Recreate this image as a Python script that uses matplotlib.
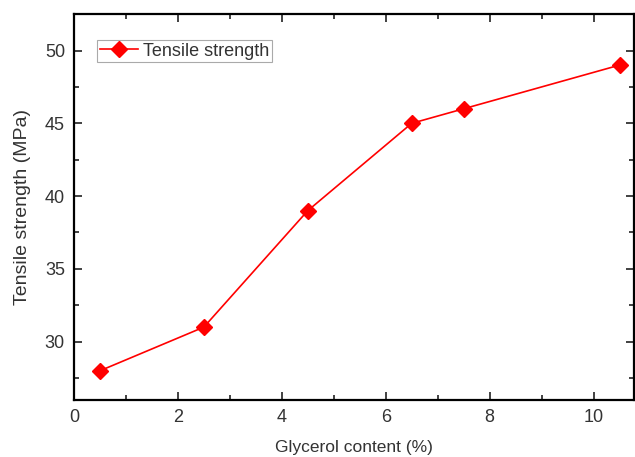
import matplotlib.pyplot as plt
from matplotlib.ticker import MultipleLocator

plt.rcParams['font.family'] = ['Liberation Sans', 'DejaVu Sans']

glycerol = [0.5, 2.5, 4.5, 6.5, 7.5, 10.5]
strength = [28, 31, 39, 45, 46, 49]

fig = plt.figure(figsize=(6.35, 4.57), dpi=100)
ax = fig.add_axes([0.1165, 0.125, 0.882, 0.844])

ax.plot(glycerol, strength, color='#ff0000', lw=1.2, marker='D', ms=8,
        markeredgecolor='#ff0000', label='Tensile strength')

ax.set_xlim(0, 10.78)
ax.set_ylim(26, 52.5)
ax.xaxis.set_major_locator(MultipleLocator(2))
ax.xaxis.set_minor_locator(MultipleLocator(1))
ax.yaxis.set_major_locator(MultipleLocator(5))
ax.yaxis.set_minor_locator(MultipleLocator(2.5))
ax.tick_params(which='both', direction='in', top=True, right=True,
               labelsize=13, colors='#333333', width=1.3, pad=6.5)
ax.tick_params(which='major', length=6)
ax.tick_params(which='minor', length=3.5)
for s in ax.spines.values():
    s.set_linewidth(1.6)

ax.set_xlabel('Glycerol content (%)', fontsize=12.5, color='#333333', labelpad=10)
ax.set_ylabel('Tensile strength (MPa)', fontsize=14, color='#333333', labelpad=10)

leg = ax.legend(loc='upper left', bbox_to_anchor=(0.041, 0.933), fontsize=13,
                fancybox=False, framealpha=1, edgecolor='#aaaaaa',
                borderpad=0.15, handlelength=2.1, handletextpad=0.3,
                borderaxespad=0, labelcolor='#333333')
leg.get_frame().set_linewidth(0.8)

fig.savefig('out.png', dpi=100)
